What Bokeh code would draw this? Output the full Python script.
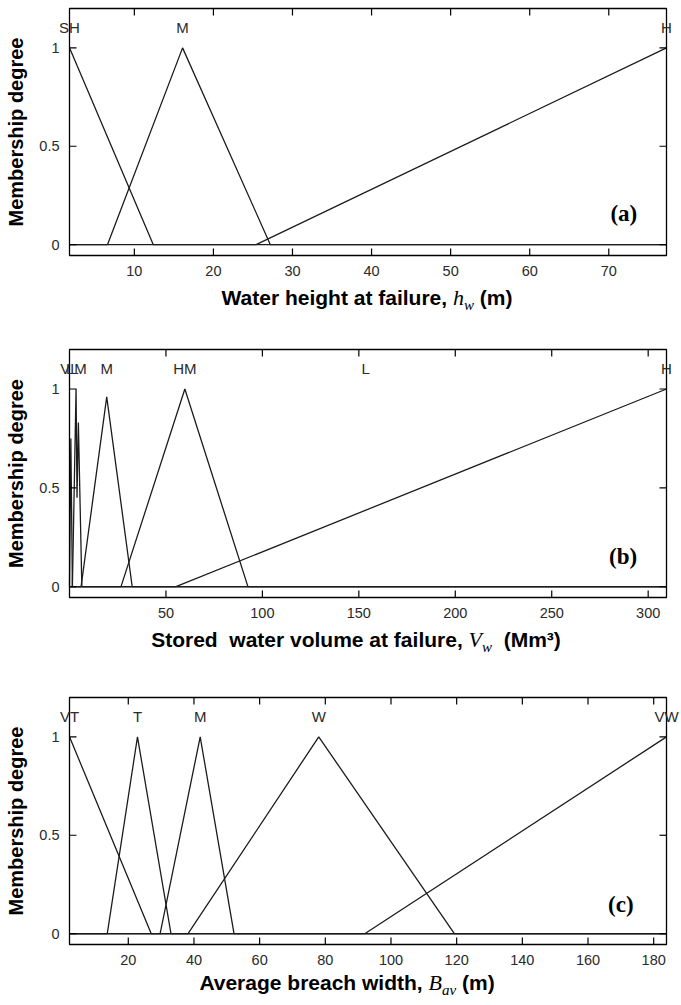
import math
from bokeh.plotting import figure
from bokeh.models import Div
from bokeh.core.properties import value
from bokeh.layouts import column
from bokeh.embed import file_html
from bokeh.resources import INLINE

# ---------------- data ----------------
y_lim = [-0.055, 1.2]
y_ticks = [0, 0.5, 1]
y_tick_labels = ["0", "0.5", "1"]
y_title = "Membership degree"

# (a) Water height at failure, h_w (m)
a_x_lim = [1.8, 77.3]
a_ticks = [10, 20, 30, 40, 50, 60, 70]
a_names = ["SH", "M", "H"]
a_peaks = [1.8, 16.1, 77.3]
a_sh_x = [1.8, 12.4, 77.3]
a_sh_y = [1, 0, 0]
a_m_x = [1.8, 6.6, 16.1, 27.2, 77.3]
a_m_y = [0, 0, 1, 0, 0]
a_h_x = [1.8, 25.4, 77.3]
a_h_y = [0, 0, 1]

# (b) Stored water volume at failure, V_w (Mm3)
b_x_lim = [0, 309.5]
b_ticks = [50, 100, 150, 200, 250, 300]
b_names = ["VL", "LM", "M", "HM", "L", "H"]
b_peaks = [0.0, 3.6, 19.3, 59.8, 153.6, 309.5]
b_vl_x = [0, 0.7, 1.5, 309.5]
b_vl_y = [0, 0.75, 0, 0]
b_lm_x = [0, 1.5, 3.4, 3.9, 4.6, 6.4, 309.5]
b_lm_y = [0, 0, 1, 0.45, 0.83, 0, 0]
b_m_x = [0, 6.0, 19.3, 32.5, 309.5]
b_m_y = [0, 0, 0.96, 0, 0]
b_hm_x = [0, 26.7, 59.8, 92.5, 309.5]
b_hm_y = [0, 0, 1, 0, 0]
b_h_x = [0, 55.2, 309.5]
b_h_y = [0, 0, 1]

# (c) Average breach width, B_av (m)
c_x_lim = [2.1, 183.9]
c_ticks = [20, 40, 60, 80, 100, 120, 140, 160, 180]
c_names = ["VT", "T", "M", "W", "VW"]
c_peaks = [2.1, 22.8, 41.9, 78.0, 183.9]
c_vt_x = [2.1, 27.0, 183.9]
c_vt_y = [1, 0, 0]
c_t_x = [2.1, 13.6, 22.8, 33.0, 183.9]
c_t_y = [0, 0, 1, 0, 0]
c_m_x = [2.1, 29.7, 41.9, 52.2, 183.9]
c_m_y = [0, 0, 1, 0, 0]
c_w_x = [2.1, 38.2, 78.0, 119.3, 183.9]
c_w_y = [0, 0, 1, 0, 0]
c_vw_x = [2.1, 92.0, 183.9]
c_vw_y = [0, 0, 1]

# ---------------- styling ----------------
SANS = "Liberation Sans"
SERIF = "Liberation Serif"
LINE = "#1c1c1c"
TXT = "#2a2a2a"

FIG_W = 681
BOX_L = 69      # px, left edge of the plot box
BOX_R = 666     # px, right edge of the plot box
TICK = 7        # px, inward tick length


def make_panel(x_lim, ticks, series, names, peaks, tag, tag_pos, height, box_top, box_h):
    x0, x1 = x_lim
    y0, y1 = y_lim
    sx = (x1 - x0) / (BOX_R - BOX_L)
    sy = (y1 - y0) / box_h
    box_bot = box_top + box_h
    xr = (x0 - BOX_L * sx, x0 + (FIG_W - BOX_L) * sx)
    yr = (y0 - (height - box_bot) * sy, y1 + box_top * sy)

    p = figure(width=FIG_W, height=height, output_backend="svg", toolbar_location=None,
               x_range=xr, y_range=yr, x_axis_location=None, y_axis_location=None,
               min_border=0, min_border_left=0, min_border_right=0,
               min_border_top=0, min_border_bottom=0)
    p.grid.visible = False
    p.outline_line_color = None
    p.background_fill_color = "white"
    p.border_fill_color = "white"

    # membership functions
    for xs, ys in series:
        p.line(xs, ys, line_color=LINE, line_width=1.3)

    # box
    p.quad(left=[x0], right=[x1], bottom=[y0], top=[y1], fill_color=None,
           line_color="black", line_width=1.3)

    # ticks (inward on all four sides)
    n = len(ticks)
    p.segment(x0=ticks, y0=[y0] * n, x1=ticks, y1=[y0 + TICK * sy] * n,
              line_color="black", line_width=1.2)
    p.segment(x0=ticks, y0=[y1] * n, x1=ticks, y1=[y1 - TICK * sy] * n,
              line_color="black", line_width=1.2)
    m = len(y_ticks)
    p.segment(x0=[x0] * m, y0=y_ticks, x1=[x0 + TICK * sx] * m, y1=y_ticks,
              line_color="black", line_width=1.2)
    p.segment(x0=[x1] * m, y0=y_ticks, x1=[x1 - TICK * sx] * m, y1=y_ticks,
              line_color="black", line_width=1.2)

    # tick labels
    p.text(x=ticks, y=[y0 - 10 * sy] * n, text=[str(t) for t in ticks],
           text_align="center", text_baseline="top", text_font=value(SANS),
           text_font_size="14.5px", text_color=TXT)
    p.text(x=[x0 - 10 * sx] * m, y=y_ticks, text=y_tick_labels,
           text_align="right", text_baseline="middle", text_font=value(SANS),
           text_font_size="14.5px", text_color=TXT)

    # y-axis title
    p.text(x=[x0 - 54 * sx], y=[(y0 + y1) / 2], text=[y_title], angle=math.pi / 2,
           text_align="center", text_baseline="middle", text_font=value(SANS),
           text_font_style="bold", text_font_size="20px", text_color="black")

    # membership-function names
    p.text(x=peaks, y=[1.105] * len(peaks), text=names, text_align="center",
           text_baseline="middle", text_font=value(SANS), text_font_size="15px",
           text_color=TXT)

    # panel tag
    p.text(x=[tag_pos[0]], y=[tag_pos[1]], text=[tag], text_align="center",
           text_baseline="middle", text_font=value(SERIF), text_font_style="bold",
           text_font_size="23px", text_color="black")
    return p


def make_xlabel(html, center, height, pad_top):
    inner = (f'<div style="width:520px; margin-left:{center - 260}px; text-align:center; '
             f'font-family:\'Liberation Sans\'; font-weight:bold; font-size:21px; '
             f'line-height:24px; color:black; white-space:pre;">{html}</div>')
    return Div(text=inner, width=FIG_W, height=height, margin=(0, 0, 0, 0),
               styles={"padding-top": f"{pad_top}px", "overflow": "visible"})


SYM = "font-family:'Liberation Serif'; font-style:italic; font-weight:normal; font-size:22px;"
SUB = ("font-family:'Liberation Serif'; font-style:italic; font-weight:normal; font-size:15px; "
       "position:relative; top:5px;")

pa = make_panel(a_x_lim, a_ticks,
                [(a_sh_x, a_sh_y), (a_m_x, a_m_y), (a_h_x, a_h_y)],
                a_names, a_peaks, "(a)", (71.9, 0.158), 282, 8, 247)
la = make_xlabel(f'Water height at failure, <span style="{SYM}">h</span><span style="{SUB}">w</span> (m)',
                 367, 30, 4)

pb = make_panel(b_x_lim, b_ticks,
                [(b_vl_x, b_vl_y), (b_lm_x, b_lm_y), (b_m_x, b_m_y), (b_hm_x, b_hm_y), (b_h_x, b_h_y)],
                b_names, b_peaks, "(b)", (287.0, 0.15), 312, 37, 248)
lb = make_xlabel(f'Stored  water volume at failure, <span style="{SYM}">V</span><span style="{SUB}">w</span>  (Mm³)',
                 356, 30, 4)

pc = make_panel(c_x_lim, c_ticks,
                [(c_vt_x, c_vt_y), (c_t_x, c_t_y), (c_m_x, c_m_y), (c_w_x, c_w_y), (c_vw_x, c_vw_y)],
                c_names, c_peaks, "(c)", (170.0, 0.146), 317, 43, 247)
lc = make_xlabel(f'Average breach width, <span style="{SYM}">B</span><span style="{SUB}">av</span> (m)',
                 347, 26, 0)

layout = column(pa, la, pb, lb, pc, lc, spacing=0)
open("out.html", "w").write(file_html(layout, INLINE))
